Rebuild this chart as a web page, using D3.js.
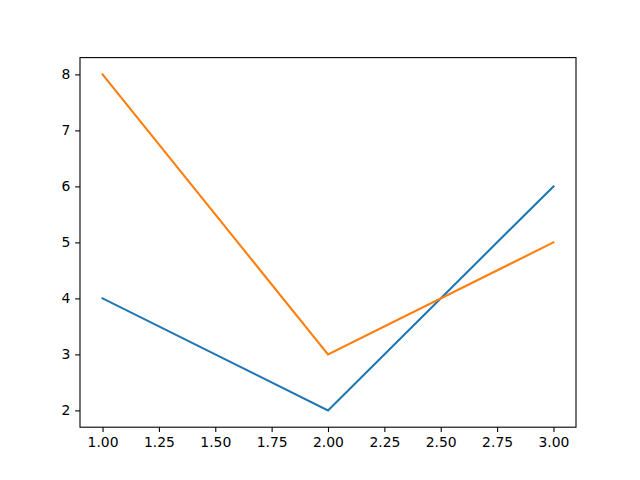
<!DOCTYPE html>
<html><head><meta charset="utf-8">
<script src="https://cdn.jsdelivr.net/npm/d3@7"></script>
<style>body{margin:0;background:#fff}svg{display:block}</style>
</head><body>
<script>
const xValues = [1, 2, 3];
const seriesA = [4, 2, 6];
const seriesB = [8, 3, 5];
const xTicks = [1.0, 1.25, 1.5, 1.75, 2.0, 2.25, 2.5, 2.75, 3.0];
const yTicks = [2, 3, 4, 5, 6, 7, 8];
const colors = ["#1f77b4", "#ff7f0e"];

const W = 640, H = 480;
const L = 80, R = 576, T = 57.6, B = 427.2;
const svg = d3.select("body").append("svg").attr("width", W).attr("height", H);
const x = d3.scaleLinear().domain([0.9, 3.1]).range([L, R]);
const y = d3.scaleLinear().domain([1.7, 8.3]).range([B, T]);
const font = "DejaVu Sans, sans-serif";

const line = d3.line().x((d, i) => x(xValues[i])).y(d => y(d));
[seriesA, seriesB].forEach((s, k) => {
  svg.append("path").datum(s).attr("d", line).attr("fill", "none")
    .attr("stroke", colors[k]).attr("stroke-width", 2.08).attr("stroke-linecap", "square");
});

const xAxis = d3.axisBottom(x).tickValues(xTicks).tickFormat(d3.format(".2f")).tickSize(4.86).tickPadding(4.9);
const yAxis = d3.axisLeft(y).tickValues(yTicks).tickFormat(d3.format("d")).tickSize(4.86).tickPadding(4.9);
const gx = svg.append("g").attr("transform", `translate(0,${B})`).call(xAxis);
const gy = svg.append("g").attr("transform", `translate(${L},0)`).call(yAxis);
[gx, gy].forEach(g => {
  g.select(".domain").remove();
  g.selectAll("line").attr("stroke", "#000").attr("stroke-width", 1.1);
  g.selectAll("text").attr("font-family", font).attr("font-size", 13.9).attr("fill", "#000");
});
svg.append("rect").attr("x", L).attr("y", T).attr("width", R - L).attr("height", B - T)
  .attr("fill", "none").attr("stroke", "#000").attr("stroke-width", 1.1);
</script>
</body></html>
